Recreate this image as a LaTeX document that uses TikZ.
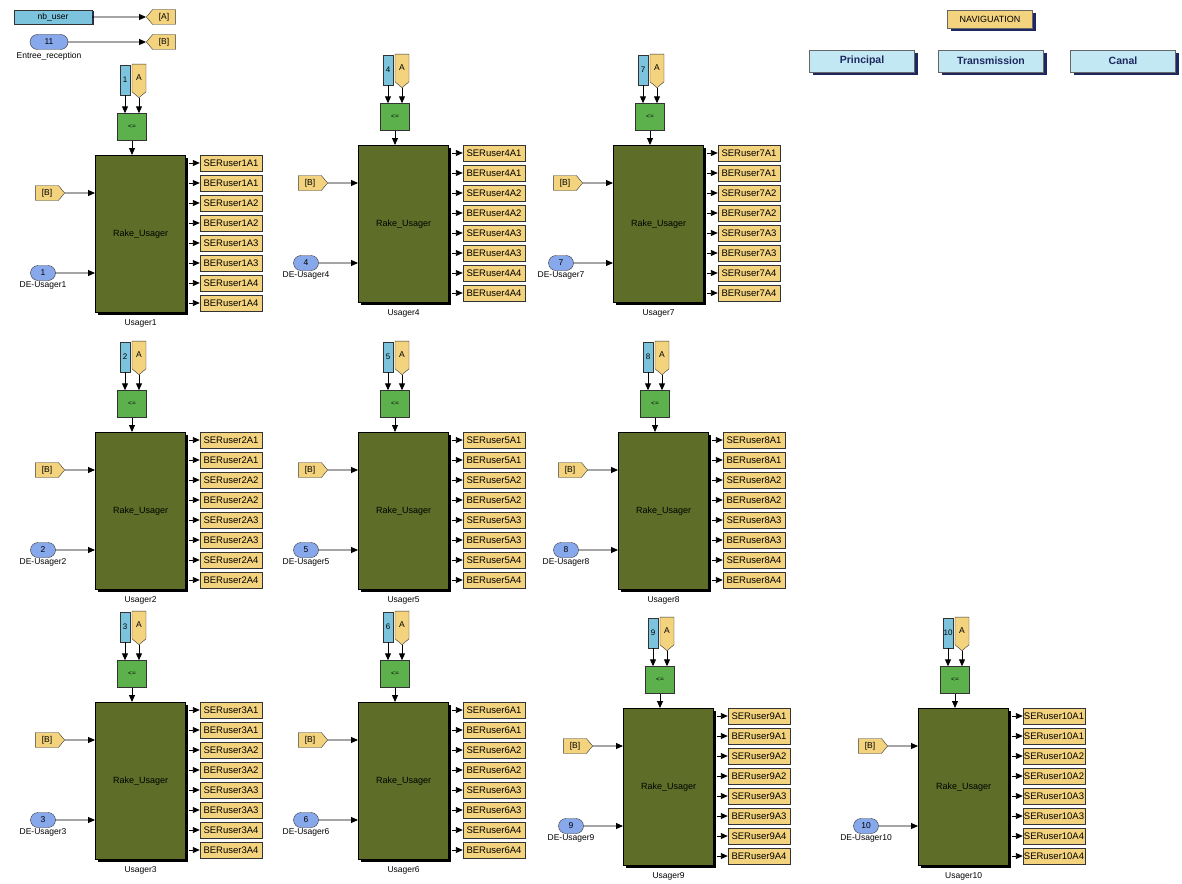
\documentclass[tikz,border=0pt]{standalone}
\usepackage{fontspec}
\setmainfont{Liberation Sans}
\usepackage{xcolor}
\definecolor{tagyellow}{HTML}{F4D37E}
\definecolor{constcyan}{HTML}{7CC3DE}
\definecolor{portblue}{HTML}{88A8EC}
\definecolor{relgreen}{HTML}{5DB14D}
\definecolor{rakeolive}{HTML}{5E6E28}
\definecolor{navcyan}{HTML}{C2E9F3}
\definecolor{navshadow}{HTML}{1E2860}
\usetikzlibrary{arrows.meta,positioning,shapes.symbols,shapes.misc,shadows}

\begin{document}
\begin{tikzpicture}[x=1pt,y=-1pt,
  every node/.style={inner sep=0pt, font=\fontsize{8.5}{9}\selectfont},
  wire/.style={-{Triangle[length=7pt,width=6pt]}, line width=0.9pt},
  rake/.style={draw=black, line width=1.2pt, fill=rakeolive, minimum width=90pt,
    minimum height=157pt, font=\fontsize{9}{10}\selectfont,
    drop shadow={shadow xshift=2.5pt, shadow yshift=-2.5pt, fill=black, opacity=1}},
  relop/.style={draw=black!80, fill=relgreen, minimum width=29pt, minimum height=27pt,
    font=\fontsize{6.5}{7}\selectfont},
  constblk/.style={draw=black!80, fill=constcyan, minimum width=10pt, minimum height=30pt,
    font=\fontsize{8}{8}\selectfont},
  gototag/.style={signal, draw=black!80, fill=tagyellow, signal pointer angle=100,
    minimum width=29pt, minimum height=15pt, font=\fontsize{8.5}{9}\selectfont},
  outtag/.style={draw=black!80, fill=tagyellow, minimum width=62pt, minimum height=16pt,
    font=\fontsize{9.5}{10}\selectfont,
    drop shadow={shadow xshift=1pt, shadow yshift=-1pt, fill=black!70, opacity=1}},
  inport/.style={rounded rectangle, draw=black!80, fill=portblue, minimum width=25pt,
    minimum height=15pt, font=\fontsize{8.5}{9}\selectfont},
  navbtn/.style={draw=black!60, fill=navcyan, minimum width=105pt, minimum height=22pt,
    text=navshadow, font=\fontsize{10.5}{11}\selectfont\bfseries,
    drop shadow={shadow xshift=3pt, shadow yshift=-3pt, fill=navshadow, opacity=1}}
]
\useasboundingbox (0,0) rectangle (1182,883);

% Global sources
\node[draw=black!80, fill=constcyan, minimum width=78pt, minimum height=14pt,
  drop shadow={shadow xshift=1.5pt, shadow yshift=-1.5pt, fill=navshadow, opacity=1}]
  (nbuser) at (53,17) {nb\_user};
\node[gototag, signal to=west] (gotoA) at (164,17) {[A]};
\draw[wire] (nbuser) -- (gotoA);
\node[inport, minimum width=38pt] (recep) at (49,42) {11};
\node[below=2pt of recep] (receplbl) {Entree\_reception};
\node[gototag, signal to=west] (gotoB) at (164,42) {[B]};
\draw[wire] (recep) -- (gotoB);

% Navigation
\node[draw=black!60, fill=tagyellow, minimum width=85pt, minimum height=18pt,
  font=\fontsize{9}{9}\selectfont,
  drop shadow={shadow xshift=3pt, shadow yshift=-3pt, fill=navshadow, opacity=1}]
  (nav) at (990,19) {NAVIGUATION};
\node[navbtn] (principal) at (862,61) {Principal};
\node[navbtn] (transmission) at (991,61) {Transmission};
\node[navbtn] (canal) at (1123,61) {Canal};

% User blocks
\foreach \n/\bx/\by in {1/95/155, 2/95/432, 3/95/702, 4/358/145, 5/358/432,
                        6/358/702, 7/613/145, 8/618/432, 9/623/708, 10/918/708} {
  \node[rake, anchor=north west] (rake\n) at (\bx,\by) {Rake\_Usager};
  \node[below=6pt of rake\n] (name\n) {Usager\n};
  % threshold test
  \node[relop] (rel\n) at (\bx+37,\by-28) {<=};
  \node[constblk] (cst\n) at (\bx+30,\by-75) {\n};
  \node[gototag, signal to=south, minimum width=14pt, minimum height=30pt]
    (fa\n) at (\bx+44,\by-77) {A};
  \draw[wire] (cst\n.south) -- (cst\n.south |- rel\n.north);
  \draw[wire] (fa\n.south) -- (fa\n.south |- rel\n.north);
  \draw[wire] (rel\n) -- (rel\n |- rake\n.north);
  % inputs
  \node[gototag, signal to=east] (fb\n) at (\bx-48,\by+38) {[B]};
  \draw[wire] (fb\n) -- (fb\n -| rake\n.west);
  \node[inport] (in\n) at (\bx-52,\by+118) {\n};
  \node[below=1pt of in\n] (inlbl\n) {DE-Usager\n};
  \draw[wire] (in\n) -- (in\n -| rake\n.west);
  % outputs
  \foreach \pre/\a [count=\k from 0] in {SER/1,BER/1,SER/2,BER/2,SER/3,BER/3,SER/4,BER/4} {
    \node[outtag] (out\n-\k) at (\bx+136,\by+8+20*\k)
      {\ifnum\n=10 SER\else\pre\fi user\n A\a};
    \draw[wire] ([xshift=3pt]rake\n.east |- out\n-\k.west) -- (out\n-\k.west);
  }
}
\end{tikzpicture}
\end{document}
